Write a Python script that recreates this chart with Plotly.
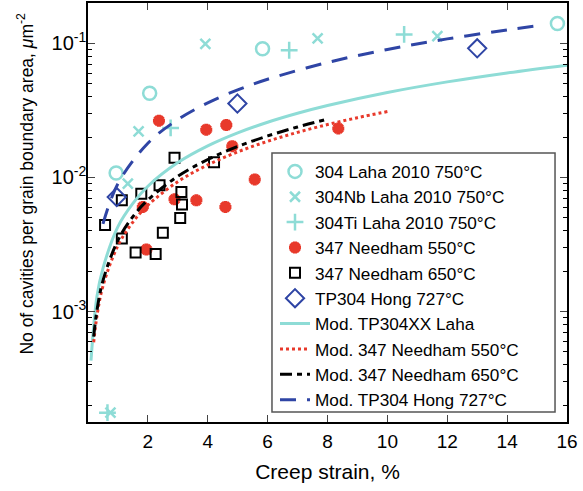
import plotly.graph_objects as go

# ---- data ----
laha304_x = [0.94, 2.06, 5.83, 15.68]
laha304_y = [0.0108, 0.0425, 0.0912, 0.1406]

nb304_x = [0.75, 1.33, 1.69, 3.92, 7.67, 11.67]
nb304_y = [0.000176, 0.0090, 0.0221, 0.0993, 0.109, 0.113]

ti304_x = [0.65, 2.76, 6.72, 10.56]
ti304_y = [0.000176, 0.0234, 0.0888, 0.1166]

n550_x = [2.37, 3.95, 4.62, 4.82, 8.36, 5.57, 3.62, 4.59, 2.89, 1.83, 1.95]
n550_y = [0.0265, 0.0227, 0.0246, 0.0171, 0.0232, 0.00966, 0.00675, 0.00603, 0.00687, 0.00603, 0.0029]

n650_x = [2.89, 2.39, 1.78, 1.13, 3.12, 3.14, 3.08, 0.57, 1.13, 2.50, 1.59, 2.26, 4.21]
n650_y = [0.0140, 0.00873, 0.00757, 0.00675, 0.00778, 0.00628, 0.00499, 0.00441, 0.0035, 0.00387, 0.00276, 0.00268, 0.0130]

hong_x = [0.96, 4.99, 13.0]
hong_y = [0.00714, 0.0356, 0.0918]

mod_laha_x = [0.1, 0.3, 0.5, 1, 1.5, 2, 3, 4, 5, 6, 7, 8, 10, 12, 14, 16]
mod_laha_y = [0.00043, 0.0013, 0.0021, 0.0043, 0.0064, 0.0086, 0.0129, 0.0172, 0.0215,
              0.0258, 0.0301, 0.0344, 0.043, 0.0516, 0.0602, 0.0688]

mod_n550_x = [0.19, 0.3, 0.5, 1, 1.5, 2, 3, 4, 5, 6, 7, 8, 9, 10]
mod_n550_y = [0.00059, 0.00093, 0.00155, 0.0031, 0.00465, 0.0062, 0.0093, 0.0124, 0.0155,
              0.0186, 0.0217, 0.0248, 0.0279, 0.031]

mod_n650_x = [0.19, 0.3, 0.5, 1, 1.5, 2, 3, 4, 5, 6, 7, 7.9]
mod_n650_y = [0.00065, 0.00102, 0.0017, 0.0034, 0.0051, 0.0068, 0.0102, 0.0136, 0.017,
              0.0204, 0.0238, 0.0269]

mod_hong_x = [0.5, 1, 2, 3, 4, 5, 6, 8, 10, 12, 14, 15]
mod_hong_y = [0.0045, 0.009, 0.018, 0.027, 0.036, 0.045, 0.054, 0.072, 0.09, 0.108, 0.126, 0.135]

x_ticks = [2, 4, 6, 8, 10, 12, 14, 16]
y_ticks = [1e-3, 1e-2, 1e-1]
y_tick_text = ["10<sup>-3</sup>", "10<sup>-2</sup>", "10<sup>-1</sup>"]
y_minor = [m * 10.0 ** e for e in (-4, -3, -2, -1) for m in range(2, 10)]

CYAN = "#8EDCD6"
RED = "#E8392B"
BLUE = "#2F45A5"
FONT = "Liberation Sans, Arial, Helvetica, sans-serif"

fig = go.Figure()

def pts(x, y, name, symbol, color, size, lw):
    fig.add_trace(go.Scatter(x=x, y=y, mode="markers", name=name,
                             marker=dict(symbol=symbol, size=size, color=color,
                                         line=dict(color=color, width=lw))))

pts(laha304_x, laha304_y, "304 Laha 2010 750°C", "circle-open", CYAN, 13, 2.5)
pts(nb304_x, nb304_y, "304Nb Laha 2010 750°C", "x-thin-open", CYAN, 10, 2.5)
pts(ti304_x, ti304_y, "304Ti Laha 2010 750°C", "cross-thin-open", CYAN, 12, 2.5)
pts(n550_x, n550_y, "347 Needham 550°C", "asterisk-open", RED, 10, 4)
pts(n650_x, n650_y, "347 Needham 650°C", "square-open", "black", 10, 2)
pts(hong_x, hong_y, "TP304 Hong 727°C", "diamond-open", BLUE, 14, 2)

def ln(x, y, name, color, dash):
    fig.add_trace(go.Scatter(x=x, y=y, mode="lines", name=name, line_shape="spline",
                             line=dict(color=color, width=3, dash=dash)))

ln(mod_laha_x, mod_laha_y, "Mod. TP304XX Laha", CYAN, "solid")
ln(mod_n550_x, mod_n550_y, "Mod. 347 Needham 550°C", RED, "dot")
ln(mod_n650_x, mod_n650_y, "Mod. 347 Needham 650°C", "black", "12px,5px,5px,5px")
ln(mod_hong_x, mod_hong_y, "Mod. TP304 Hong 727°C", BLUE, "16px,11px")

fig.update_layout(
    width=583, height=491, autosize=False,
    margin=dict(l=88, r=16, t=3, b=69, autoexpand=False),
    paper_bgcolor="white", plot_bgcolor="white",
    font=dict(family=FONT, size=19, color="black"),
    showlegend=True,
    legend=dict(x=0.3904, y=0.6403, xanchor="left", yanchor="top",
                bgcolor="rgba(0,0,0,0)", borderwidth=0,
                font=dict(size=17.2), tracegroupgap=0, itemwidth=30),
    shapes=[dict(type="rect", xref="paper", yref="paper",
                 x0=0.3841, x1=0.975, y0=0.0239, y1=0.642,
                 fillcolor="white", line=dict(color="#555555", width=1.5), layer="above")],
    annotations=[dict(
        text="No of cavities per grain boundary area, <i>μ</i>m<sup>-2</sup>",
        xref="paper", yref="paper", x=-0.1315, y=0.569, xanchor="center", yanchor="middle",
        textangle=-90, showarrow=False, font=dict(size=17.5))],
)
fig.update_xaxes(
    range=[0, 16], tickvals=x_ticks, ticks="inside", ticklen=7, tickwidth=1.3,
    showline=True, linecolor="black", linewidth=1.5, mirror="ticks",
    showgrid=False, zeroline=False, automargin=False, ticklabelstandoff=1,
    title=dict(text="Creep strain, %", font=dict(size=21), standoff=14),
    tickfont=dict(size=19),
)
fig.update_yaxes(
    type="log", range=[-3.824, -0.699],
    tickvals=y_ticks, ticktext=y_tick_text, ticks="inside", ticklen=7, tickwidth=1.3,
    minor=dict(tickvals=y_minor, ticks="inside", ticklen=4, tickcolor="black", tickwidth=1, showgrid=False),
    showline=True, linecolor="black", linewidth=1.5, mirror="ticks",
    showgrid=False, zeroline=False, automargin=False, ticklabelstandoff=-4,
    tickfont=dict(size=20),
)

fig.write_html("out.html", config={"displayModeBar": False},
               post_script="document.body.style.margin='0px';")
